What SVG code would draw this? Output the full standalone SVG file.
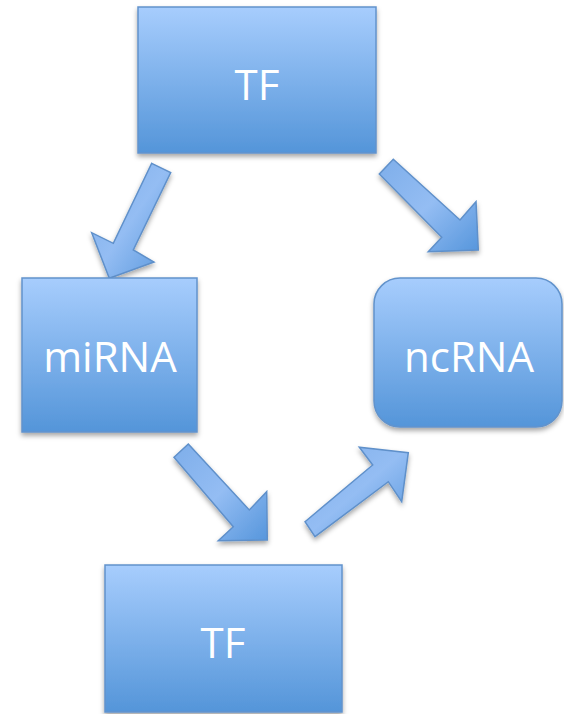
<svg xmlns="http://www.w3.org/2000/svg" width="564" height="714" viewBox="0 0 564 714">
<defs>
<linearGradient id="g" x1="0" y1="0" x2="0" y2="1">
<stop offset="0" stop-color="#a7cdfd"/>
<stop offset="1" stop-color="#5495d9"/>
</linearGradient>
<linearGradient id="ga" x1="0" y1="0" x2="1" y2="1">
<stop offset="0" stop-color="#7eaeea"/>
<stop offset="0.5" stop-color="#94bdf3"/>
<stop offset="1" stop-color="#5696dc"/>
</linearGradient>
<filter id="sh" x="-10%" y="-10%" width="120%" height="130%">
<feDropShadow dx="0" dy="3" stdDeviation="2.5" flood-color="#000" flood-opacity="0.35"/>
</filter>
<style>
.box{fill:url(#g);stroke:#6293cc;stroke-width:1.5;filter:url(#sh)}
.arr{fill:url(#ga);stroke:#5f90ca;stroke-width:1.5;stroke-linejoin:miter;filter:url(#sh)}
.lbl{font-family:"Open Sans","Liberation Sans",sans-serif;font-size:42px;fill:#ffffff;text-anchor:middle}
</style>
</defs>
<g id="connectors">
<polygon class="arr" points="151.7,163.3 170.7,172.7 133.3,250 154,262 109.3,278.3 91.7,232.7 113.3,243.3"/>
<polygon class="arr" points="393.3,159.3 460,220 476,201.7 478.3,250 428.3,251.7 441.7,237.3 379.3,174"/>
<polygon class="arr" points="188.3,444 249.3,510 266.7,491.7 267.3,540 218.3,540.7 233.3,526.7 174,457.3"/>
<polygon class="arr" points="305,521.7 372.7,465 359.3,447.3 408.3,452.7 401.7,501.7 388.3,481.7 315,536.7"/>
</g>
<g id="tf-top">
<rect class="box" x="138" y="7" width="238" height="146"/>
<text class="lbl" x="257" y="100">TF</text>
</g>
<g id="mirna">
<rect class="box" x="22" y="278" width="175" height="154"/>
<text class="lbl" x="110" y="372">miRNA</text>
</g>
<g id="ncrna">
<rect class="box" x="374" y="278" width="188" height="149" rx="26" ry="26"/>
<text class="lbl" x="469" y="372">ncRNA</text>
</g>
<g id="tf-bottom">
<rect class="box" x="105" y="565" width="237" height="147"/>
<text class="lbl" x="223" y="658">TF</text>
</g>
</svg>
